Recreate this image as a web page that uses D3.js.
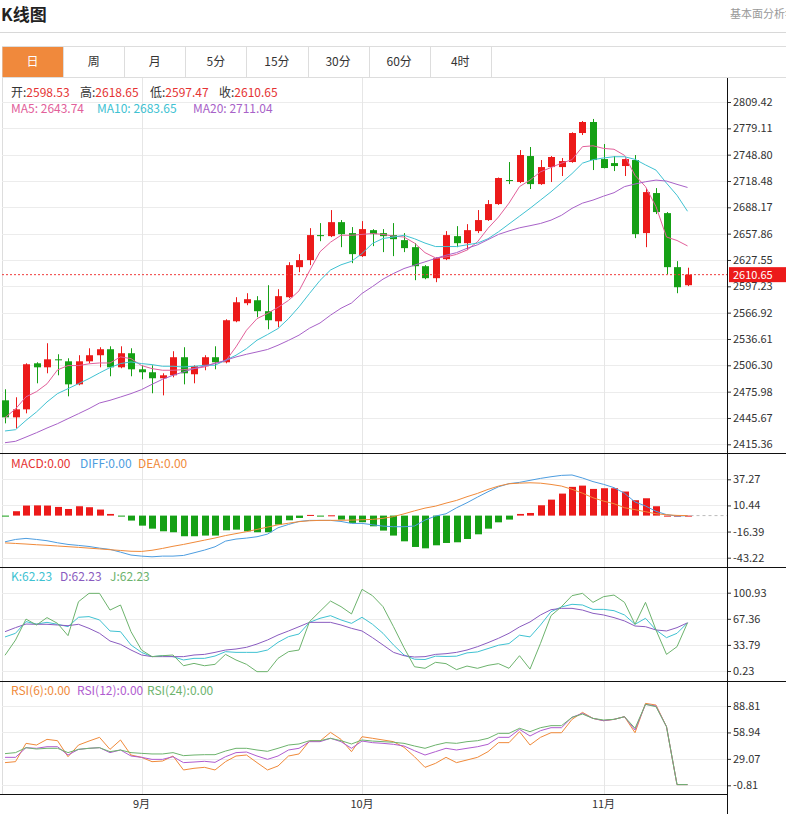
<!DOCTYPE html>
<html>
<head>
<meta charset="utf-8">
<script src="https://cdn.jsdelivr.net/npm/d3@7"></script>
<style>
body { margin: 0; background: #fff; }
svg { display: block; font-family: "Noto Sans CJK SC", "Noto Sans", sans-serif; }
</style>
</head>
<body>
<svg id="chart" width="786" height="814"></svg>
<script>
// K-line data, one entry per trading day
const opens = [2466.0, 2446.4, 2455.6, 2508.6, 2504.0, 2513.2, 2510.9, 2484.4, 2510.9, 2517.9, 2524.8, 2504.0, 2520.2, 2501.7, 2498.3, 2491.4, 2494.8, 2515.6, 2496.0, 2505.2, 2515.6, 2509.8, 2557.0, 2577.8, 2581.2, 2568.6, 2557.0, 2584.7, 2619.3, 2627.4, 2656.2, 2655.0, 2671.1, 2658.5, 2632.0, 2661.9, 2658.5, 2656.2, 2650.4, 2642.3, 2620.4, 2606.6, 2628.5, 2655.0, 2646.9, 2660.8, 2673.5, 2691.9, 2719.6, 2717.3, 2747.2, 2714.9, 2734.5, 2734.5, 2740.3, 2773.7, 2786.4, 2743.7, 2739.1, 2735.7, 2742.6, 2658.5, 2704.6, 2681.5, 2619.3, 2598.53];
const highs = [2478.7, 2469.5, 2508.6, 2509.8, 2531.7, 2519.0, 2514.4, 2517.9, 2525.9, 2527.1, 2528.2, 2528.2, 2525.9, 2506.3, 2506.3, 2497.1, 2522.5, 2527.1, 2506.3, 2517.9, 2528.2, 2559.3, 2584.7, 2589.3, 2585.9, 2598.5, 2593.9, 2625.0, 2634.3, 2664.2, 2670.0, 2685.0, 2673.5, 2665.4, 2672.3, 2663.0, 2663.1, 2670.0, 2658.5, 2646.9, 2621.6, 2630.8, 2660.8, 2666.5, 2668.8, 2685.0, 2696.5, 2722.5, 2740.3, 2754.1, 2757.6, 2742.6, 2747.2, 2744.9, 2774.5, 2787.5, 2789.9, 2761.0, 2747.2, 2744.5, 2748.4, 2710.3, 2710.3, 2682.7, 2626.2, 2618.65];
const lows = [2439.5, 2433.7, 2451.0, 2485.6, 2497.1, 2494.8, 2470.6, 2483.3, 2508.6, 2504.0, 2493.7, 2502.9, 2493.7, 2490.2, 2474.1, 2471.7, 2492.5, 2484.4, 2485.6, 2500.6, 2501.7, 2508.6, 2555.9, 2575.5, 2561.7, 2547.8, 2550.1, 2583.6, 2613.5, 2621.6, 2649.2, 2653.9, 2642.3, 2623.9, 2631.0, 2643.5, 2636.6, 2632.0, 2636.6, 2604.3, 2605.4, 2602.0, 2627.4, 2642.3, 2638.9, 2658.5, 2672.5, 2691.0, 2714.9, 2716.1, 2709.2, 2714.0, 2717.3, 2724.2, 2739.5, 2771.4, 2731.1, 2733.0, 2729.9, 2724.2, 2652.7, 2642.3, 2680.4, 2611.2, 2589.3, 2597.47];
const closes = [2446.4, 2455.6, 2507.5, 2504.0, 2513.2, 2512.1, 2484.4, 2510.9, 2517.9, 2524.8, 2504.0, 2520.2, 2501.7, 2498.3, 2491.4, 2494.8, 2515.6, 2497.1, 2505.2, 2515.6, 2509.8, 2558.2, 2578.9, 2582.4, 2568.6, 2558.2, 2585.9, 2621.6, 2627.4, 2656.2, 2655.0, 2671.1, 2657.3, 2634.3, 2663.1, 2657.3, 2655.0, 2651.5, 2641.2, 2620.4, 2606.6, 2629.6, 2656.2, 2646.9, 2661.9, 2673.5, 2691.9, 2721.9, 2718.4, 2748.4, 2714.9, 2734.5, 2746.1, 2741.4, 2773.7, 2786.4, 2742.6, 2733.4, 2735.7, 2743.7, 2657.3, 2705.7, 2682.7, 2619.3, 2596.2, 2610.65];

// moving averages as shown on the chart
const ma5 = [2446, 2456, 2470, 2476, 2485, 2501, 2506, 2506, 2508, 2509, 2509, 2516, 2514, 2506, 2502.5, 2500.6, 2500.6, 2501.3, 2502.5, 2504.4, 2509, 2511, 2527.5, 2546.7, 2560, 2566, 2573, 2581, 2592, 2615, 2637, 2648, 2656, 2656, 2657, 2658, 2657, 2655, 2654, 2647, 2636, 2630, 2631, 2634, 2639, 2648.5, 2664, 2677, 2693, 2712, 2719.5, 2729, 2734, 2739, 2743, 2758, 2759, 2756, 2755, 2748, 2725, 2712, 2689, 2654, 2650, 2643.74];
const ma10 = [2430.7, 2432.2, 2442.9, 2452.6, 2464.1, 2473.7, 2479.4, 2485.2, 2491.0, 2497.5, 2503.7, 2508.3, 2510.2, 2508.3, 2507.1, 2505.2, 2505.2, 2504.4, 2505.2, 2506.3, 2506.3, 2512.1, 2517.9, 2525.5, 2535.2, 2541.7, 2548.6, 2560, 2573.6, 2589, 2604, 2616, 2622, 2626, 2635, 2646.6, 2652.3, 2654, 2656, 2652, 2647, 2643, 2643, 2643, 2645, 2647, 2652, 2660, 2669, 2678, 2687, 2696.5, 2706, 2716.5, 2727, 2739, 2743, 2745, 2746.4, 2746.4, 2743.4, 2737, 2731, 2716, 2702, 2683.65];
const ma20 = [2417.2, 2418.8, 2423.7, 2428.7, 2434.1, 2439.1, 2444.9, 2450.6, 2456.4, 2462.9, 2466.0, 2469.8, 2473.7, 2478.3, 2484.4, 2490.2, 2494.8, 2498.7, 2502.5, 2505.6, 2508.3, 2512.1, 2515.9, 2519.0, 2521.7, 2524.5, 2529.4, 2535, 2541, 2549, 2555, 2564, 2572, 2578, 2589, 2597, 2605.5, 2612, 2617.7, 2621.6, 2625.4, 2629.3, 2633, 2636, 2641, 2645, 2651, 2657, 2661, 2664.6, 2667, 2669.6, 2673.4, 2679, 2687, 2693, 2696.5, 2701, 2705, 2712, 2715, 2717.6, 2719.5, 2718.4, 2714.6, 2711.04];

// MACD
const macdBars = [-0.8, 4.5, 10.3, 10.5, 10.3, 8.9, 6.8, 9.6, 8.6, 6.2, 1.7, -0.6, -5.1, -10.3, -13.4, -16.1, -17.1, -21.2, -21.2, -20.5, -20.5, -15.1, -14.4, -16.1, -17.1, -17.1, -9.2, -4.8, -2.4, 0.7, -0.3, 0.3, -4.1, -7.5, -6.8, -11, -15.4, -20.5, -26.4, -32.2, -33.6, -30.5, -28.1, -27.4, -24.0, -19.2, -13.4, -6.9, -4.1, 1.7, 2.7, 10.6, 16.4, 22.6, 29.5, 30.8, 27.4, 28.1, 28.1, 24.7, 15.8, 17.8, 9.6, 0, 0, 0];
const diff = [-26.9, -24.5, -23.4, -24.5, -25.8, -27.9, -29.6, -30.6, -31.7, -33.4, -34.7, -37.5, -40.5, -41.6, -42.3, -41.6, -41.6, -40.9, -38.2, -35.4, -32.0, -26.2, -24.1, -23.1, -21.7, -19.0, -12.5, -9.1, -6.0, -4.9, -4.9, -4.9, -6.0, -8.0, -8.0, -9.4, -10.8, -11.4, -11.4, -10.7, -4.6, -0.5, 1.9, 8.0, 13.2, 19.0, 24.5, 29.6, 32.8, 34.1, 36.2, 38.2, 39.9, 41.3, 41.7, 38.6, 34.9, 32.1, 28.7, 22.9, 14.0, 9.9, 4.4, 1.0, -0.5, 0];
const dea = [-28.0, -28.6, -29.2, -29.9, -30.5, -31.2, -31.9, -32.6, -33.4, -34.2, -35.0, -35.8, -36.6, -36.8, -35.6, -33.7, -31.5, -29.6, -27.4, -25.2, -23.0, -20.5, -18.5, -16.5, -14.2, -11.8, -9.5, -7.8, -6.2, -5.3, -4.9, -4.9, -4.8, -4.6, -4.3, -3.9, -2.8, -1.0, 1.8, 4.9, 7.7, 9.7, 12.8, 15.6, 19.4, 22.8, 26.9, 30.3, 32.7, 33.3, 33.7, 33.3, 32.0, 30.3, 27.0, 23.0, 18.3, 14.9, 12.2, 8.1, 6.1, 4.0, 1.9, 0.9, 0.2, 0];

// KDJ
const kVals = [44.0, 48.7, 63.7, 60.6, 62.8, 60.3, 57.3, 69.3, 70.2, 65.9, 51.7, 50.8, 33.7, 24.2, 18.7, 19.9, 18.7, 14.4, 16.5, 16.5, 19.5, 25.1, 24.2, 24.2, 24.2, 27.2, 37.1, 44.4, 47.8, 62.8, 68.0, 71.4, 65.9, 61.5, 69.3, 60.3, 48.7, 33.7, 20.8, 15.4, 15.0, 19.3, 18.9, 19.3, 23.5, 24.8, 29.1, 33.4, 35.5, 46.3, 44.1, 59.4, 76.5, 82.6, 86.0, 85.1, 79.5, 79.5, 77.8, 72.3, 60.3, 68.0, 53.0, 43.1, 48.7, 62.23];
const dVals = [50.8, 56.0, 60.6, 60.3, 60.3, 59.4, 58.5, 60.3, 55.1, 48.7, 38.8, 34.5, 27.2, 20.8, 18.7, 18.7, 18.7, 18.7, 20.8, 21.6, 24.2, 27.2, 28.5, 30.7, 34.9, 40.1, 46.5, 51.7, 57.2, 62.8, 62.8, 62.8, 59.4, 55.1, 51.7, 43.1, 33.7, 24.2, 19.9, 18.2, 18.7, 21.6, 22.5, 24.2, 27.2, 31.5, 36.7, 42.3, 48.7, 56.9, 63.3, 72.3, 79.1, 80.8, 80.8, 78.6, 74.4, 72.3, 68.9, 64.6, 58.1, 57.2, 53.0, 51.7, 56.0, 62.23];
const jVals = [20.5, 40.0, 67.0, 59.4, 68.9, 61.5, 45.7, 89.4, 100.1, 100.1, 78.6, 85.1, 50.8, 27.2, 18.7, 19.9, 20.8, 7.0, 10.0, 7.0, 8.8, 21.6, 14.4, 8.8, -0.6, -0.6, 16.5, 25.1, 27.2, 63.7, 77.0, 90.2, 83.0, 73.6, 105.3, 97.1, 83.0, 57.2, 30.2, 5.7, 3.7, 11.4, 9.7, 2.0, 6.6, 3.7, 7.5, 9.7, 3.7, 19.9, 2.7, 35.8, 71.4, 83.0, 97.1, 100.1, 88.5, 95.8, 97.9, 88.5, 60.3, 88.5, 53.0, 21.6, 31.5, 62.23];

// RSI
const rsi6 = [24.8, 25.9, 46.6, 44.7, 51.1, 49.6, 31.5, 44.7, 49.2, 53.4, 39.8, 50.4, 33.4, 30.8, 25.9, 26.6, 32.3, 16.5, 18.4, 19.5, 16.5, 25.9, 32.3, 33.4, 24.8, 16.5, 21.0, 32.3, 34.6, 49.2, 49.2, 59.0, 51.1, 37.2, 54.1, 52.3, 50.4, 48.5, 42.1, 31.5, 19.5, 24.0, 30.8, 24.8, 27.8, 30.8, 37.2, 47.4, 47.4, 59.8, 44.7, 53.4, 58.6, 58.6, 73.7, 81.6, 74.8, 72.2, 73.7, 76.7, 58.6, 91.8, 89.9, 65.4, 0, 0];
const rsi12 = [30.8, 30.8, 41.7, 41.0, 42.8, 42.8, 33.4, 39.8, 41.0, 41.7, 36.1, 39.1, 32.3, 30.8, 28.5, 28.5, 31.5, 24.8, 25.5, 26.3, 25.1, 31.5, 36.1, 36.8, 32.3, 28.5, 32.3, 39.1, 41.0, 48.5, 48.5, 52.3, 48.5, 41.0, 49.2, 47.4, 46.6, 45.5, 43.6, 38.3, 33.4, 37.2, 41.0, 39.1, 41.0, 42.8, 45.5, 53.4, 53.4, 62.4, 54.9, 60.9, 64.3, 64.3, 76.0, 80.5, 74.8, 72.2, 73.7, 76.7, 61.7, 90.7, 88.8, 65.4, 0, 0];
const rsi24 = [35.0, 36.1, 41.7, 40.2, 41.0, 41.0, 36.1, 39.8, 41.0, 41.7, 37.2, 39.1, 36.1, 35.3, 34.6, 34.6, 36.1, 32.7, 33.4, 33.8, 33.8, 37.9, 41.0, 41.0, 39.1, 37.6, 41.0, 44.7, 45.9, 49.6, 49.6, 52.3, 49.6, 45.9, 50.4, 49.2, 48.5, 47.8, 46.6, 43.6, 41.0, 44.7, 47.4, 46.6, 48.5, 49.6, 52.3, 57.9, 57.9, 63.6, 59.8, 64.3, 66.6, 66.6, 76.0, 79.7, 74.8, 73.0, 73.7, 76.7, 63.6, 90.7, 88.0, 65.4, 0, 0];

// axis ticks and labels
const priceTicks = [2415.36, 2445.67, 2475.98, 2506.30, 2536.61, 2566.92, 2597.23, 2627.55, 2657.86, 2688.17, 2718.48, 2748.80, 2779.11, 2809.42];
const macdTicks = [-43.22, -16.39, 10.44, 37.27];
const kdjTicks = [0.23, 33.79, 67.36, 100.93];
const rsiTicks = [-0.81, 29.07, 58.94, 88.81];
const monthIdx = [13, 34, 57];
const monthLabels = ["9月", "10月", "11月"];
const tabs = ["日", "周", "月", "5分", "15分", "30分", "60分", "4时"];

const UP = "#ec1a1a", DOWN = "#15a015";
const C_MA5 = "#e2609a", C_MA10 = "#40c2d2", C_MA20 = "#a862c8";
const C_DIFF = "#4d9de0", C_DEA = "#f08a3a";
const C_K = "#40c2d2", C_D = "#8a5cc0", C_J = "#6db36d";
const C_R6 = "#f08a3a", C_R12 = "#b05cd0", C_R24 = "#6db36d";

const svg = d3.select("#chart");
const axisX = 727;
const left = 2;
const n = closes.length;
const idx = d3.range(n);

const x = d3.scaleLinear().domain([0, n - 1]).range([5, 687.5]);

const yMain = d3.scaleLinear().domain([2415.36, 2809.42]).range([444.3, 102]);
const yMacd = d3.scaleLinear().domain([-43.22, 37.27]).range([557.7, 479.3]);
const yKdj = d3.scaleLinear().domain([0.23, 100.93]).range([671, 592.7]);
const yRsi = d3.scaleLinear().domain([-0.81, 88.81]).range([785.3, 706]);

// header
svg.append("text").attr("x", 1).attr("y", 21)
  .attr("font-size", 17).attr("font-weight", "bold").attr("fill", "#222")
  .text("K线图");
svg.append("text").attr("x", 730).attr("y", 18)
  .attr("font-size", 11).attr("fill", "#999").text("基本面分析>");
svg.append("line").attr("x1", 0).attr("x2", 786).attr("y1", 32.5).attr("y2", 32.5)
  .attr("stroke", "#d8d8d8");

// tabs
const tabW = 61.1;
svg.append("rect").attr("x", left + 0.5).attr("y", 46.5).attr("width", 786).attr("height", 31)
  .attr("fill", "none").attr("stroke", "#ddd");
svg.append("rect").attr("x", left + 0.5).attr("y", 47).attr("width", tabW - 0.5).attr("height", 30)
  .attr("fill", "#f0893c");
tabs.forEach((t, i) => {
  const tx = left + i * tabW;
  if (i > 0) {
    svg.append("line").attr("x1", Math.round(tx) + 0.5).attr("x2", Math.round(tx) + 0.5)
      .attr("y1", 47).attr("y2", 77).attr("stroke", "#ddd");
  }
  svg.append("text").attr("x", tx + tabW / 2).attr("y", 66)
    .attr("text-anchor", "middle").attr("font-size", 12)
    .attr("fill", i === 0 ? "#fff" : "#333").text(t);
});
svg.append("line").attr("x1", Math.round(left + 8 * tabW) + 0.5).attr("x2", Math.round(left + 8 * tabW) + 0.5)
  .attr("y1", 47).attr("y2", 77).attr("stroke", "#ddd");

// left border
svg.append("line").attr("x1", left + 0.5).attr("x2", left + 0.5).attr("y1", 78).attr("y2", 794)
  .attr("stroke", "#ddd");

// grid lines
function hGrid(y, ticks) {
  svg.append("g").selectAll("line").data(ticks).join("line")
    .attr("x1", left).attr("x2", axisX)
    .attr("y1", d => Math.round(y(d)) + 0.5).attr("y2", d => Math.round(y(d)) + 0.5)
    .attr("stroke", "#ececec");
}
hGrid(yMain, priceTicks);
hGrid(yMacd, macdTicks);
hGrid(yKdj, kdjTicks);
hGrid(yRsi, rsiTicks);

svg.append("g").selectAll("line").data(monthIdx).join("line")
  .attr("x1", d => Math.round(x(d)) + 0.5).attr("x2", d => Math.round(x(d)) + 0.5)
  .attr("y1", 78).attr("y2", 794).attr("stroke", "#e6e6e6");

// right axes
function rightAxis(y, ticks) {
  const g = svg.append("g").attr("transform", `translate(${axisX},0)`)
    .call(d3.axisRight(y).tickValues(ticks).tickSize(4).tickPadding(2)
      .tickFormat(d => d.toFixed(2)));
  g.select(".domain").remove();
  g.selectAll("line").attr("stroke", "#333");
  g.selectAll("text").attr("font-size", 11).attr("fill", "#333")
    .attr("font-family", "\"Noto Sans CJK SC\", sans-serif");
}
rightAxis(yMain, priceTicks);
rightAxis(yMacd, macdTicks);
rightAxis(yKdj, kdjTicks);
rightAxis(yRsi, rsiTicks);

// panel separators and axis lines
[453.5, 567.5, 681.5].forEach(yy => {
  svg.append("line").attr("x1", 0).attr("x2", 786).attr("y1", yy).attr("y2", yy)
    .attr("stroke", "#111");
});
svg.append("line").attr("x1", 0).attr("x2", axisX).attr("y1", 794.5).attr("y2", 794.5)
  .attr("stroke", "#111");
svg.append("line").attr("x1", axisX + 0.5).attr("x2", axisX + 0.5).attr("y1", 78).attr("y2", 814)
  .attr("stroke", "#111");

// month labels
svg.append("g").selectAll("text").data(monthIdx).join("text")
  .attr("x", d => x(d)).attr("y", 808).attr("text-anchor", "middle")
  .attr("font-size", 11).attr("fill", "#333")
  .text((d, i) => monthLabels[i]);

// candles
const candles = svg.append("g");
idx.forEach(i => {
  const up = closes[i] >= opens[i];
  const col = up ? UP : DOWN;
  const cx = Math.round(x(i)) + 0.5;
  candles.append("line").attr("x1", cx).attr("x2", cx)
    .attr("y1", yMain(highs[i])).attr("y2", yMain(lows[i]))
    .attr("stroke", col);
  const top = yMain(Math.max(opens[i], closes[i]));
  const bot = yMain(Math.min(opens[i], closes[i]));
  candles.append("rect").attr("x", cx - 3.5).attr("width", 7)
    .attr("y", top).attr("height", Math.max(1, bot - top))
    .attr("fill", col);
});

function drawLine(values, y, color) {
  svg.append("path").datum(values)
    .attr("fill", "none").attr("stroke", color).attr("stroke-width", 1)
    .attr("d", d3.line().x((d, i) => x(i)).y(d => y(d)));
}
drawLine(ma5, yMain, C_MA5);
drawLine(ma10, yMain, C_MA10);
drawLine(ma20, yMain, C_MA20);

// last price line and label
const last = closes[n - 1];
svg.append("line").attr("x1", left).attr("x2", axisX)
  .attr("y1", yMain(last)).attr("y2", yMain(last))
  .attr("stroke", "#f03a3a").attr("stroke-dasharray", "2,2");
svg.append("rect").attr("x", axisX + 2).attr("y", yMain(last) - 7.5)
  .attr("width", 786 - axisX - 2).attr("height", 15).attr("fill", "#ec1a1a");
svg.append("text").attr("x", axisX + 6).attr("y", yMain(last) + 4)
  .attr("font-size", 11).attr("fill", "#fff").text(last.toFixed(2));

// MACD
const y0 = yMacd(0);
svg.append("g").selectAll("rect").data(macdBars).join("rect")
  .attr("x", (d, i) => Math.round(x(i)) - 3)
  .attr("width", 7)
  .attr("y", d => d >= 0 ? yMacd(d) : y0)
  .attr("height", d => Math.max(1, Math.abs(yMacd(d) - y0)))
  .attr("fill", d => d >= 0 ? UP : DOWN);
drawLine(diff, yMacd, C_DIFF);
drawLine(dea, yMacd, C_DEA);
svg.append("line").attr("x1", x(n - 1) + 3).attr("x2", axisX)
  .attr("y1", y0).attr("y2", y0).attr("stroke", "#bbb").attr("stroke-dasharray", "3,3");

// KDJ
drawLine(kVals, yKdj, C_K);
drawLine(dVals, yKdj, C_D);
drawLine(jVals, yKdj, C_J);

// RSI
drawLine(rsi6, yRsi, C_R6);
drawLine(rsi12, yRsi, C_R12);
drawLine(rsi24, yRsi, C_R24);

// legends
function legend(yy, items) {
  const t = svg.append("text").attr("y", yy).attr("font-size", 12);
  items.forEach(it => {
    t.append("tspan").attr("x", it.x).attr("fill", it.c1 || it.c).text(it.label);
    t.append("tspan").attr("fill", it.c).text(it.value);
  });
}
legend(97, [
  { x: 11, label: "开:", c1: "#333", c: "#e53333", value: opens[n - 1].toFixed(2) },
  { x: 80, label: "高:", c1: "#333", c: "#e53333", value: highs[n - 1].toFixed(2) },
  { x: 150, label: "低:", c1: "#333", c: "#e53333", value: lows[n - 1].toFixed(2) },
  { x: 219, label: "收:", c1: "#333", c: "#e53333", value: closes[n - 1].toFixed(2) }
]);
legend(112.5, [
  { x: 11, label: "MA5: ", c: C_MA5, value: ma5[n - 1].toFixed(2) },
  { x: 97, label: "MA10: ", c: C_MA10, value: ma10[n - 1].toFixed(2) },
  { x: 193, label: "MA20: ", c: C_MA20, value: ma20[n - 1].toFixed(2) }
]);
legend(467.5, [
  { x: 11, label: "MACD:", c: "#e53333", value: "0.00" },
  { x: 80, label: "DIFF:", c: C_DIFF, value: "0.00" },
  { x: 138, label: "DEA:", c: C_DEA, value: "0.00" }
]);
legend(580.5, [
  { x: 11, label: "K:", c: C_K, value: kVals[n - 1].toFixed(2) },
  { x: 60, label: "D:", c: C_D, value: dVals[n - 1].toFixed(2) },
  { x: 110, label: "J:", c: C_J, value: jVals[n - 1].toFixed(2) }
]);
legend(694.5, [
  { x: 11, label: "RSI(6):", c: C_R6, value: rsi6[n - 1].toFixed(2) },
  { x: 77, label: "RSI(12):", c: C_R12, value: rsi12[n - 1].toFixed(2) },
  { x: 147, label: "RSI(24):", c: C_R24, value: rsi24[n - 1].toFixed(2) }
]);
</script>
</body>
</html>
